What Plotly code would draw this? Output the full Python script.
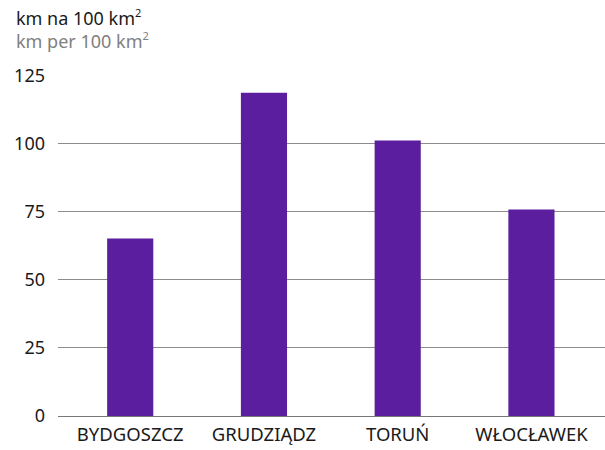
import plotly.graph_objects as go

# Road density by city
cities = ["BYDGOSZCZ", "GRUDZIĄDZ", "TORUŃ", "WŁOCŁAWEK"]
density = [65.2, 118.8, 101.2, 75.9]
y_ticks = [0, 25, 50, 75, 100, 125]

BAR_COLOR = "#5b1e9e"
GRID_COLOR = "#8c8c8c"
FONT = "Noto Sans"
SUP2 = "<sup><span style='font-size:11px'>2</span></sup>"

fig = go.Figure(
    go.Bar(
        x=cities,
        y=density,
        marker=dict(color=BAR_COLOR, line=dict(width=0)),
        width=0.345,
        hoverinfo="x+y",
    )
)

unit_title = (
    "km na 100 km" + SUP2
    + "<br><span style='color:#808080'>km per 100 km" + SUP2 + "</span>"
)

fig.update_layout(
    width=605,
    height=450,
    margin=dict(l=58, r=0, t=75, b=34),
    paper_bgcolor="white",
    plot_bgcolor="white",
    showlegend=False,
    font=dict(family=FONT, color="#1a1a1a"),
    xaxis=dict(
        type="category",
        range=[-0.54, 3.55],
        showgrid=False,
        showline=False,
        zeroline=False,
        ticks="",
        tickfont=dict(size=18.5, color="#1a1a1a"),
        ticklabelstandoff=5,
    ),
    yaxis=dict(
        range=[0, 125.3],
        tickvals=y_ticks,
        showgrid=True,
        gridcolor=GRID_COLOR,
        gridwidth=1,
        zeroline=True,
        zerolinecolor="#777777",
        zerolinewidth=1,
        showline=False,
        ticks="",
        tickfont=dict(size=18, color="#1a1a1a"),
        ticklabelstandoff=12,
    ),
    annotations=[
        dict(
            text=unit_title,
            xref="paper", yref="paper",
            x=-44 / 547, y=1 + 46 / 341,
            xanchor="left", yanchor="middle",
            align="left",
            showarrow=False,
            font=dict(size=18, color="#1a1a1a", family=FONT),
        ),
    ],
)

fig.write_html("out.html")
